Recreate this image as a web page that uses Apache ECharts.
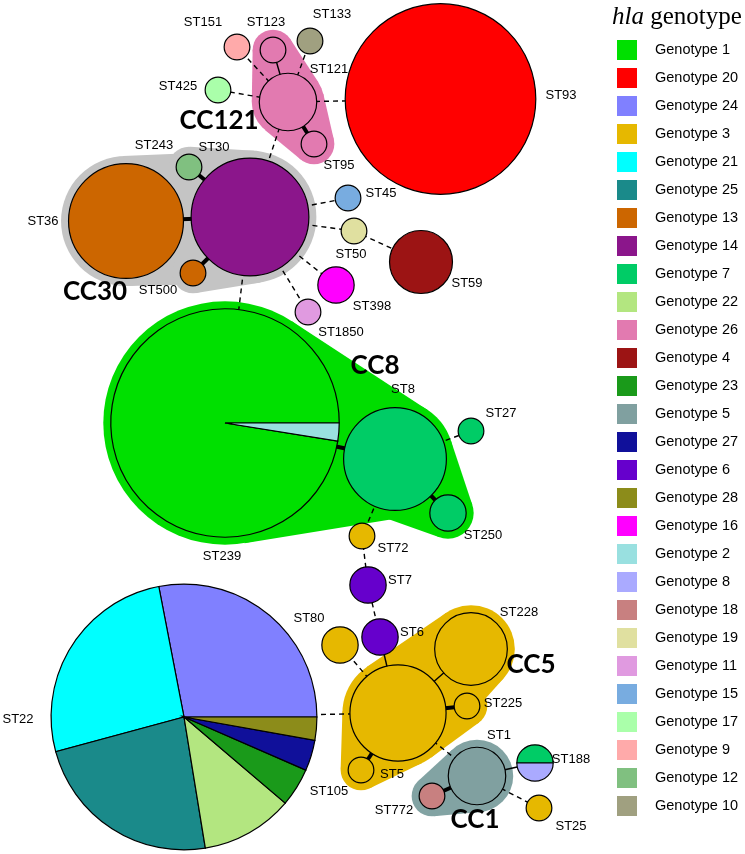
<!DOCTYPE html>
<html><head><meta charset="utf-8">
<script src="https://cdn.jsdelivr.net/npm/echarts@6/dist/echarts.min.js"></script>
<style>html,body{margin:0;padding:0;background:#fff}#c{width:745px;height:854px}</style>
</head><body><div id="c"></div>
<script>
// ---------- data ----------
const genotypeNums = [1,20,24,3,21,25,13,14,7,22,26,4,23,5,27,6,28,16,2,8,18,19,11,15,17,9,12,10];
const genotypeColors = ['#00E000','#FF0000','#8080FF','#E6B800','#00FFFF','#1A8A8A','#CC6600','#8B168B','#00CC66','#B3E680','#E27AB0','#9C1414','#1A9A1A','#80A0A0','#10109A','#6600CC','#8C8C1A','#FF00FF','#99E0E0','#AAAAFF','#C88080','#E0E0A0','#E09AE0','#78ACE0','#AAFFAA','#FFAAAA','#80C080','#A0A080'];

const nodeNames = ['ST93','ST121','ST123','ST151','ST133','ST425','ST95','ST36','ST30','ST243','ST500','ST45','ST50','ST59','ST398','ST1850','ST239','ST8','ST27','ST250','ST72','ST7','ST6','ST80','ST5','ST228','ST225','ST105','ST1','ST772','ST188','ST25','ST22'];
// isolate counts per hla genotype, slices listed clockwise from 3 o'clock: [genotype, count]
const nodeProfile = [
  [[20,55]], [[26,5]], [[26,1]], [[9,1]], [[10,1]], [[17,1]], [[26,1]],
  [[13,20]], [[14,21]], [[12,1]], [[13,1]], [[15,1]], [[19,1]], [[4,6]], [[16,2]], [[11,1]],
  [[2,2],[1,77]], [[7,16]], [[7,1]], [[7,2]], [[3,1]], [[6,2]], [[6,2]], [[3,2]],
  [[3,14]], [[3,8]], [[3,1]], [[3,1]], [[5,5]], [[18,1]], [[8,1],[7,1]], [[3,1]],
  [[28,3],[27,4],[23,5],[22,12],[25,25],[21,28],[24,30]]
];
// layout (network positions)
const nodeX = [440.5,288,273,237,310,218,314,126,250,189,193,348,354,421,336,308,225,395,471,448,362,368,380,340,398,471,467,361,477,432,535,539,184];
const nodeY = [99,102,50,47,41,90,144,221,217,167,273,198,231,262,285,312,423,459,431,513,536,585,637,645,713,649,706,770,776,796,763,808,717];
const labelX = [561,329,266,203,332,178,339,43,214,154,158,381,351,467,372,341,222,403,501,483,393,400,412,309,392,519,503,329,499,394,571,571,18];
const labelY = [95,69,22,22,14,86,165,221,147,145,290,193,254,283,306,332,556,389,413,535,548,580,632,618,774,612,703,791,735,810,759,826,719];

// links: [source, target, kind]  kind: 'slv' thick, 'solid', 'dashed'
const edges = [
  ['ST121','ST95','slv'],['ST36','ST30','slv'],['ST30','ST243','slv'],['ST30','ST500','slv'],
  ['ST239','ST8','slv'],['ST8','ST250','slv'],['ST5','ST225','slv'],['ST5','ST105','slv'],['ST1','ST772','slv'],
  ['ST121','ST123','solid'],['ST5','ST6','solid'],['ST5','ST228','solid'],['ST1','ST188','solid'],
  ['ST121','ST151','dashed'],['ST121','ST133','dashed'],['ST121','ST425','dashed'],['ST121','ST93','dashed'],
  ['ST121','ST30','dashed'],['ST30','ST45','dashed'],['ST30','ST50','dashed'],['ST50','ST59','dashed'],
  ['ST30','ST398','dashed'],['ST30','ST1850','dashed'],['ST30','ST239','dashed'],['ST8','ST27','dashed'],
  ['ST8','ST72','dashed'],['ST72','ST7','dashed'],['ST7','ST6','dashed'],['ST5','ST80','dashed'],
  ['ST5','ST22','dashed'],['ST5','ST1','dashed'],['ST1','ST25','dashed']
];

// clonal complexes
const ccNames = ['CC121','CC30','CC8','CC5','CC1'];
const ccColors = ['#E27AB0','#C4C4C4','#00DD00','#E6B800','#82A3A3'];
const ccLinks = [
  [['ST121','ST123'],['ST121','ST95']],
  [['ST36','ST30'],['ST30','ST243'],['ST30','ST500']],
  [['ST239','ST8'],['ST8','ST250']],
  [['ST5','ST228'],['ST5','ST225'],['ST5','ST105']],
  [['ST1','ST772']]
];
const ccLabelX = [219,95,375,531,475];
const ccLabelY = [121,292,366,665,820];

// ---------- build ----------
const K = 12.85;      // radius units per sqrt(isolates)
const PAD = 7.5;
const idx = {}; nodeNames.forEach((n,i)=>idx[n]=i);
const totals = nodeProfile.map(c=>c.reduce((s,v)=>s+v[1],0));

const sliceData = genotypeNums.map(()=>[]);
nodeNames.forEach((n,i)=>{
  const comp = nodeProfile[i];
  let a = 0;
  comp.forEach(([g,c])=>{
    const a1 = a + c/totals[i]*2*Math.PI;
    const gi = genotypeNums.indexOf(g);
    sliceData[gi].push([nodeX[i], nodeY[i], totals[i], a, a1, comp.length===1?1:0]);
    a = a1;
  });
});

function radiusPx(api, total){ return api.size([K*Math.sqrt(total),0])[0]; }

function renderSlice(params, api){
  const c = api.coord([api.value(0), api.value(1)]);
  const r = radiusPx(api, api.value(2));
  const style = {fill: api.visual('color'), stroke:'#000', lineWidth:1.2};
  if (api.value(5)===1) return {type:'circle', shape:{cx:c[0],cy:c[1],r:r}, style:style};
  return {type:'sector', shape:{cx:c[0],cy:c[1],r:r,r0:0,startAngle:api.value(3),endAngle:api.value(4),clockwise:true}, style:style};
}

const edgeData = edges.map(([s,t,k])=>[nodeX[idx[s]],nodeY[idx[s]],nodeX[idx[t]],nodeY[idx[t]], k==='slv'?0:(k==='solid'?1:2)]);
function renderEdge(params, api){
  const p1 = api.coord([api.value(0), api.value(1)]);
  const p2 = api.coord([api.value(2), api.value(3)]);
  const k = api.value(4);
  return {type:'line', shape:{x1:p1[0],y1:p1[1],x2:p2[0],y2:p2[1]},
    style:{stroke:'#000', lineWidth: k===0?4:1.4, lineDash: k===2?[5,4]:null}};
}

const hullData = ccNames.map((n,i)=>{ const f = idx[ccLinks[i][0][0]]; return [nodeX[f], nodeY[f], i]; });
function renderHull(params, api){
  const ci = api.value(2);
  const color = ccColors[ci];
  const children = [];
  const seen = {};
  const info = n => { const i = idx[n]; return {p: api.coord([nodeX[i], nodeY[i]]), r: radiusPx(api, totals[i]) + PAD}; };
  ccLinks[ci].forEach(([a,b])=>{
    [a,b].forEach(n=>{ if(!seen[n]){ seen[n]=1; const q = info(n); children.push({type:'circle', shape:{cx:q.p[0],cy:q.p[1],r:q.r}, style:{fill:color}}); }});
    const A = info(a), B = info(b);
    const dx = B.p[0]-A.p[0], dy = B.p[1]-A.p[1];
    const d = Math.sqrt(dx*dx+dy*dy);
    const th = Math.atan2(dy,dx);
    const al = Math.acos(Math.max(-1,Math.min(1,(A.r-B.r)/d)));
    const pt = (P,r,ang)=>[P.p[0]+r*Math.cos(ang), P.p[1]+r*Math.sin(ang)];
    children.push({type:'polygon', shape:{points:[pt(A,A.r,th+al), pt(B,B.r,th+al), pt(B,B.r,th-al), pt(A,A.r,th-al)]}, style:{fill:color}});
  });
  return {type:'group', children:children};
}

const labelData = nodeNames.map((n,i)=>[labelX[i], labelY[i], i]);
function renderLabel(params, api){
  const c = api.coord([api.value(0), api.value(1)]);
  return {type:'text', x:c[0], y:c[1], style:{text:nodeNames[api.value(2)], fill:'#000', fontSize:13, fontFamily:'"Liberation Sans", Arial, sans-serif', align:'center', verticalAlign:'middle'}};
}
const ccLabelData = ccNames.map((n,i)=>[ccLabelX[i], ccLabelY[i], i]);
function renderCCLabel(params, api){
  const c = api.coord([api.value(0), api.value(1)]);
  return {type:'text', x:c[0], y:c[1], style:{text:ccNames[api.value(2)], fill:'#000', fontSize:26, fontWeight:'bold', fontFamily:'Lato, "Open Sans", sans-serif', align:'center', verticalAlign:'middle'}};
}

const series = [
  {type:'custom', name:'hulls', coordinateSystem:'cartesian2d', renderItem:renderHull, data:hullData, z:1, silent:true, clip:false, encode:{x:0,y:1}},
  {type:'custom', name:'links', coordinateSystem:'cartesian2d', renderItem:renderEdge, data:edgeData, z:2, silent:true, clip:false, encode:{x:[0,2],y:[1,3]}}
];
genotypeNums.forEach((g,gi)=>{
  series.push({type:'custom', name:'Genotype '+g, coordinateSystem:'cartesian2d', renderItem:renderSlice,
    data:sliceData[gi], itemStyle:{color:genotypeColors[gi]}, z:3, silent:true, clip:false, encode:{x:0,y:1}});
});
series.push({type:'custom', name:'labels', coordinateSystem:'cartesian2d', renderItem:renderLabel, data:labelData, z:4, silent:true, clip:false, encode:{x:0,y:1}});
series.push({type:'custom', name:'cclabels', coordinateSystem:'cartesian2d', renderItem:renderCCLabel, data:ccLabelData, z:4, silent:true, clip:false, encode:{x:0,y:1}});

const chart = echarts.init(document.getElementById('c'), null, {renderer:'canvas'});
chart.setOption({
  animation:false,
  backgroundColor:'#fff',
  title:{text:'{i|hla} genotype', left:612, top:5, padding:0,
    textStyle:{fontFamily:'"Liberation Serif", "Times New Roman", serif', fontSize:25, fontWeight:'normal', color:'#000',
      rich:{i:{fontFamily:'"Liberation Serif", "Times New Roman", serif', fontSize:25, fontStyle:'italic', color:'#000'}}}},
  legend:{orient:'vertical', left:617, top:40, padding:0, itemWidth:20, itemHeight:20, itemGap:8, icon:'rect', selectedMode:false,
    data:genotypeNums.map(g=>'Genotype '+g), itemStyle:{borderWidth:0},
    textStyle:{fontSize:14.5, fontFamily:'"Liberation Sans", Arial, sans-serif', color:'#000', padding:[0,0,0,13]}},
  grid:{left:0, right:0, top:0, bottom:0},
  xAxis:{type:'value', min:0, max:745, show:false},
  yAxis:{type:'value', min:0, max:854, inverse:true, show:false},
  series:series
});
</script></body></html>
